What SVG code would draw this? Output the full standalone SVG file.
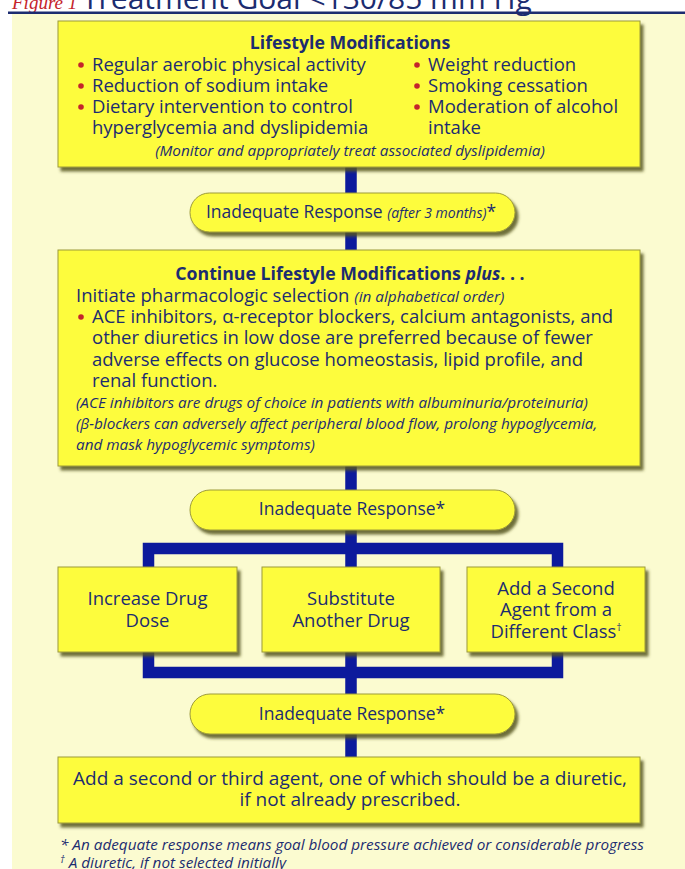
<svg xmlns="http://www.w3.org/2000/svg" width="685" height="869" viewBox="0 0 685 869">
<defs>
<filter id="sh" x="-5%" y="-10%" width="115%" height="130%">
<feDropShadow dx="3" dy="4" stdDeviation="1.6" flood-color="#55551c" flood-opacity="0.85"/>
</filter>
<style>
.bx{fill:#fdfc3c;stroke:#9c9a3a;stroke-width:1;filter:url(#sh)}
.t{font-family:"Open Sans","Liberation Sans",sans-serif;font-size:18.5px;fill:#1c2c70}
.b{font-weight:bold;font-size:17.7px}
.i{font-style:italic;font-size:15.3px}
.p{font-size:17.5px}
.m{text-anchor:middle}
.dot{fill:#c4242b}
.con{fill:none;stroke:#0c1a9c;stroke-width:11.5;stroke-linejoin:miter}
</style>
</defs>
<rect x="0" y="0" width="685" height="869" fill="#ffffff"/>
<rect x="12" y="14" width="673" height="855" fill="#fbfbd0"/>
<g id="title">
<text x="12" y="9" font-family="Liberation Serif,serif" font-style="italic" font-size="19" fill="#c4242b">Figure 1</text>
<text x="82" y="9" font-family="Open Sans,Liberation Sans,sans-serif" font-size="30" fill="#1c2c70">Treatment Goal &lt;130/85 mm Hg</text>
<rect x="8" y="11.5" width="677" height="2.5" fill="#1c2c70"/>
</g>
<g id="connectors">
<path class="con" d="M351,167V250M351,466V568M148.5,568V548.5H557.5V568M148.5,652V672.5H557.5V652M351,652V757"/>
</g>
<g id="lifestyle">
<rect class="bx" x="58" y="21" width="582" height="146"/>
<text class="t b m" x="350" y="49">Lifestyle Modifications</text>
<circle class="dot" cx="81" cy="65" r="2.8"/>
<circle class="dot" cx="81" cy="86" r="2.8"/>
<circle class="dot" cx="81" cy="107" r="2.8"/>
<circle class="dot" cx="417" cy="65" r="2.8"/>
<circle class="dot" cx="417" cy="86" r="2.8"/>
<circle class="dot" cx="417" cy="107" r="2.8"/>
<text class="t" x="92" y="71">Regular aerobic physical activity</text>
<text class="t" x="92" y="92">Reduction of sodium intake</text>
<text class="t" x="92" y="113">Dietary intervention to control</text>
<text class="t" x="92" y="134">hyperglycemia and dyslipidemia</text>
<text class="t" x="428" y="71">Weight reduction</text>
<text class="t" x="428" y="92">Smoking cessation</text>
<text class="t" x="428" y="113">Moderation of alcohol</text>
<text class="t" x="428" y="134">intake</text>
<text class="t i m" x="350" y="156">(Monitor and appropriately treat associated dyslipidemia)</text>
</g>
<g id="resp1">
<rect class="bx" x="190" y="193" width="325" height="39" rx="19.5"/>
<text class="t p m" x="351" y="218">Inadequate Response <tspan font-style="italic" font-size="14">(after 3 months)</tspan>*</text>
</g>
<g id="pharm">
<rect class="bx" x="58" y="250" width="582" height="216"/>
<text class="t b m" x="350" y="280">Continue Lifestyle Modifications <tspan font-style="italic">plus</tspan>. . .</text>
<text class="t" x="76" y="302">Initiate pharmacologic selection <tspan class="i">(in alphabetical order)</tspan></text>
<circle class="dot" cx="81" cy="317" r="2.8"/>
<text class="t" x="92" y="323">ACE inhibitors, α-receptor blockers, calcium antagonists, and</text>
<text class="t" x="92" y="344">other diuretics in low dose are preferred because of fewer</text>
<text class="t" x="92" y="366">adverse effects on glucose homeostasis, lipid profile, and</text>
<text class="t" x="92" y="387">renal function.</text>
<text class="t i" x="76" y="408">(ACE inhibitors are drugs of choice in patients with albuminuria/proteinuria)</text>
<text class="t i" x="76" y="429">(β-blockers can adversely affect peripheral blood flow, prolong hypoglycemia,</text>
<text class="t i" x="76" y="450">and mask hypoglycemic symptoms)</text>
</g>
<g id="resp2">
<rect class="bx" x="190" y="490" width="325" height="40" rx="20"/>
<text class="t p m" x="352" y="515">Inadequate Response*</text>
</g>
<g id="increase">
<rect class="bx" x="58" y="567" width="179" height="85"/>
<text class="t m" x="147.5" y="605">Increase Drug</text>
<text class="t m" x="147.5" y="627">Dose</text>
</g>
<g id="substitute">
<rect class="bx" x="262" y="567" width="178" height="85"/>
<text class="t m" x="351" y="605">Substitute</text>
<text class="t m" x="351" y="627">Another Drug</text>
</g>
<g id="addsecond">
<rect class="bx" x="467" y="567" width="178" height="85"/>
<text class="t m" x="556" y="595">Add a Second</text>
<text class="t m" x="556" y="616">Agent from a</text>
<text class="t m" x="556" y="638">Different Class<tspan font-size="10" dy="-7">†</tspan></text>
</g>
<g id="resp3">
<rect class="bx" x="190" y="694" width="325" height="40" rx="20"/>
<text class="t p m" x="352" y="720">Inadequate Response*</text>
</g>
<g id="final">
<rect class="bx" x="58" y="757" width="582" height="66"/>
<text class="t m" x="350" y="785" style="font-size:19px">Add a second or third agent, one of which should be a diuretic,</text>
<text class="t m" x="350" y="806" style="font-size:19px">if not already prescribed.</text>
</g>
<g id="notes">
<text class="t i" x="60" y="850">* An adequate response means goal blood pressure achieved or considerable progress</text>
<text class="t i" x="60" y="868"><tspan font-size="10" dy="-5">†</tspan><tspan dy="5"> A diuretic, if not selected initially</tspan></text>
</g>
</svg>
